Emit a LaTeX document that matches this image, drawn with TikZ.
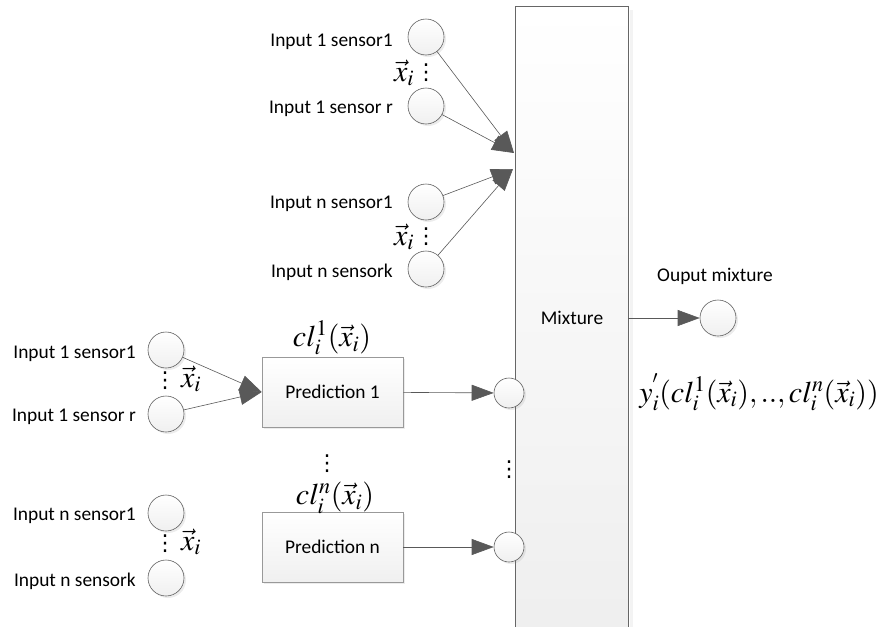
\documentclass[tikz,border=0pt]{standalone}
\usepackage[no-math]{fontspec}
\usepackage{mathptmx}
\setmainfont{Carlito}
\newfontfamily\dotsfont{DejaVu Sans}
\usetikzlibrary{arrows.meta,shadows}
\begin{document}
\begin{tikzpicture}[x=1pt,y=-1pt,
  every node/.style={font=\fontsize{19.4}{22}\selectfont},
  neuron/.style={circle,draw=gray!75!black,line width=0.6pt,minimum size=36pt,inner sep=0pt,
    top color=white,bottom color=gray!12,drop shadow={shadow xshift=2pt,shadow yshift=-2pt,opacity=0.15}},
  small/.style={neuron,minimum size=30pt},
  predbox/.style={rectangle,draw=gray!80,line width=0.6pt,minimum width=141pt,minimum height=70pt,
    top color=white,bottom color=gray!12,drop shadow={shadow xshift=2pt,shadow yshift=-2pt,opacity=0.15}},
  lbl/.style={anchor=east,inner sep=0pt},
  conn/.style={draw=gray!70!black,line width=0.6pt,-{Triangle[length=22pt,width=16pt]},color=gray!70!black},
  math/.style={font=\fontsize{30}{32}\selectfont,inner sep=0pt},
  vdots/.style={font=\dotsfont\fontsize{22}{22}\selectfont,inner sep=0pt}
]
\useasboundingbox (0,0) rectangle (879,627);

% mixture block running past the lower edge
\fill[gray!12,opacity=0.8] (630,10) rectangle (633,640);
\shade[top color=white,bottom color=gray!13] (515,6) rectangle (628,640);
\draw[gray!80!black,line width=0.8pt] (515,640) |- (628,6) -- (628,640);
\node (mix) at (572,318) {Mixture};
\coordinate (mixL1) at (514,153);
\coordinate (mixL2) at (513,169);

% upper sensor group
\node[neuron] (u1) at (426,37) {};
\node[neuron] (u2) at (426,106) {};
\node[neuron] (u3) at (426,202) {};
\node[neuron] (u4) at (426,269) {};
\node[lbl] (lu1) at (393,42) {Input 1 sensor1};
\node[lbl] (lu2) at (393,109) {Input 1 sensor r};
\node[lbl] (lu3) at (393,204) {Input n sensor1};
\node[lbl] (lu4) at (393,272) {Input n sensork};
\node[math] (xu1) at (404,73) {$\vec{x}_i$};
\node[vdots] (du1) at (426,73) {⋮};
\node[math] (xu2) at (404,237) {$\vec{x}_i$};
\node[vdots] (du2) at (426,237) {⋮};
\draw[conn] (u1) -- (mixL1);
\draw[conn] (u2) -- (mixL1);
\draw[conn] (u3) -- (mixL2);
\draw[conn] (u4) -- (mixL2);

% prediction 1
\node[predbox] (p1) at (332.5,392) {Prediction 1};
\node[neuron] (a1) at (166,350) {};
\node[neuron] (a2) at (166,414) {};
\node[lbl] (la1) at (136,354) {Input 1 sensor1};
\node[lbl] (la2) at (136,417) {Input 1 sensor r};
\node[vdots] (da) at (165,381) {⋮};
\node[math] (xa) at (191,379) {$\vec{x}_i$};
\node[math] (c1) at (332,338) {$cl_i^1(\vec{x}_i)$};
\draw[conn] (a1) -- (p1.west);
\draw[conn] (a2) -- (p1.west);
\node[small] (s1) at (509,393) {};
\draw[conn] (p1) -- (s1);

% prediction n
\node[predbox] (pn) at (332.5,547) {Prediction n};
\node[neuron] (b1) at (166,513) {};
\node[neuron] (b2) at (166,578) {};
\node[lbl] (lb1) at (136,516) {Input n sensor1};
\node[lbl] (lb2) at (136,581) {Input n sensork};
\node[vdots] (db) at (165,544) {⋮};
\node[math] (xb) at (191,542) {$\vec{x}_i$};
\node[math] (cn) at (335,498) {$cl_i^n(\vec{x}_i)$};
\node[vdots] (dc) at (327,464) {⋮};
\node[small] (s2) at (509,547) {};
\draw[conn] (pn) -- (s2);
\node[vdots] (dm) at (509,470) {⋮};

% output
\node[neuron] (out) at (718,318) {};
\node (outlbl) at (715,276) {Ouput mixture};
\draw[conn] (628,318) -- (out);
\node[math] (formula) at (759,392) {$y_i^{'}(cl_i^1(\vec{x}_i),..,cl_i^n(\vec{x}_i))$};
\end{tikzpicture}
\end{document}
